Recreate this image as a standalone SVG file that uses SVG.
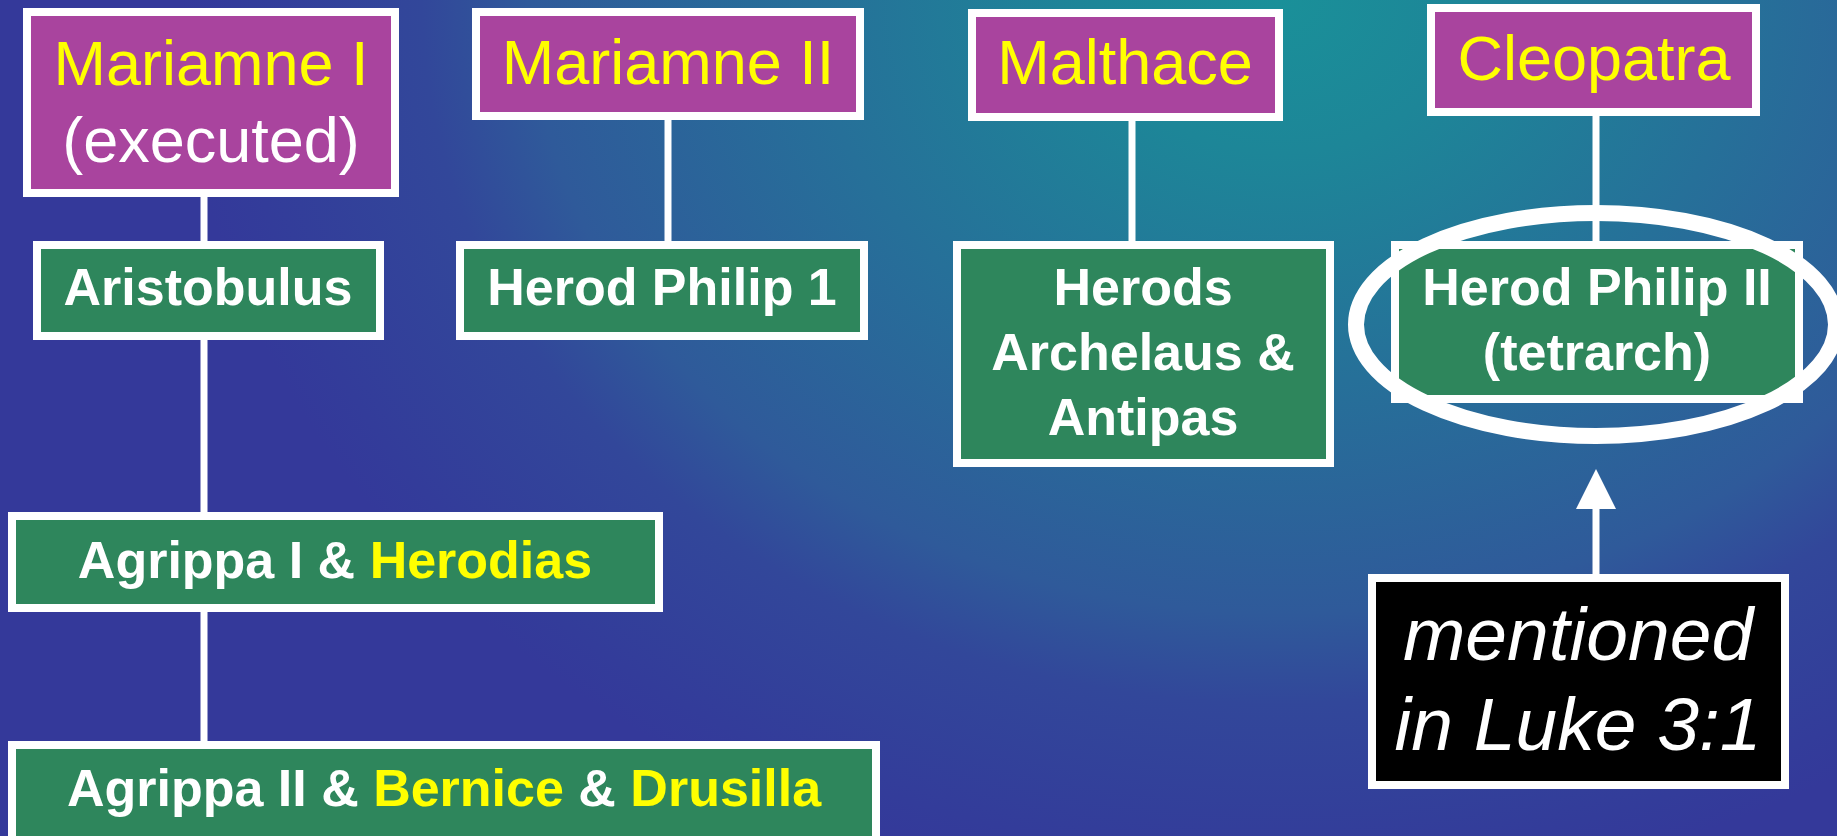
<svg xmlns="http://www.w3.org/2000/svg" width="1837" height="836" viewBox="0 0 1837 836">
  <defs>
    <radialGradient id="bg" gradientUnits="userSpaceOnUse" cx="1280" cy="0" r="1100" gradientTransform="translate(1280 0) scale(1 0.82) translate(-1280 0)">
      <stop offset="0" stop-color="#1a9099"/>
      <stop offset="0.17" stop-color="#1d8698"/>
      <stop offset="0.68" stop-color="#2f5a9a"/>
      <stop offset="0.78" stop-color="#32479a"/>
      <stop offset="0.95" stop-color="#333c9a"/>
      <stop offset="1" stop-color="#34399a"/>
    </radialGradient>
    <marker id="arrow" markerUnits="userSpaceOnUse" markerWidth="40" markerHeight="40" refX="0" refY="20" orient="auto" viewBox="0 0 40 40">
      <polygon points="0,0 40,20 0,40" fill="#ffffff"/>
    </marker>
  </defs>
  <style>
    .mother { fill: #a9449e; stroke: #ffffff; stroke-width: 8; }
    .child { fill: #2e865c; stroke: #ffffff; stroke-width: 8; }
    .note { fill: #000000; stroke: #ffffff; stroke-width: 8; }
    .link { stroke: #ffffff; stroke-width: 7; fill: none; }
    .mt { font-family: "Liberation Sans", Arial, sans-serif; font-size: 63px; fill: #ffff00; text-anchor: middle; }
    .mw { font-family: "Liberation Sans", Arial, sans-serif; font-size: 63px; fill: #ffffff; text-anchor: middle; }
    .ct { font-family: "Liberation Sans", Arial, sans-serif; font-size: 52px; font-weight: bold; fill: #ffffff; text-anchor: middle; }
    .y { fill: #ffff00; }
    .nt { font-family: "Liberation Sans", Arial, sans-serif; font-size: 75px; font-style: italic; fill: #ffffff; text-anchor: middle; }
  </style>
  <rect x="0" y="0" width="1837" height="836" fill="url(#bg)"/>

  <g id="connectors">
    <line class="link" x1="204" y1="197" x2="204" y2="241"/>
    <line class="link" x1="668" y1="120" x2="668" y2="241"/>
    <line class="link" x1="1132" y1="121" x2="1132" y2="241"/>
    <line class="link" x1="1596" y1="116" x2="1596" y2="241"/>
    <line class="link" x1="204" y1="340" x2="204" y2="512"/>
    <line class="link" x1="204" y1="612" x2="204" y2="741"/>
    <line class="link" x1="1596" y1="574" x2="1596" y2="509" marker-end="url(#arrow)"/>
  </g>

  <g id="mariamne1">
    <rect class="mother" x="27" y="12" width="368" height="181"/>
    <text class="mt" x="211" y="85">Mariamne I</text>
    <text class="mw" x="211" y="162">(executed)</text>
  </g>
  <g id="mariamne2">
    <rect class="mother" x="476" y="12" width="384" height="104"/>
    <text class="mt" x="668" y="84">Mariamne II</text>
  </g>
  <g id="malthace">
    <rect class="mother" x="972" y="13" width="307" height="104"/>
    <text class="mt" x="1125" y="84">Malthace</text>
  </g>
  <g id="cleopatra">
    <rect class="mother" x="1431" y="8" width="325" height="104"/>
    <text class="mt" x="1594" y="80">Cleopatra</text>
  </g>

  <g id="aristobulus">
    <rect class="child" x="37" y="245" width="343" height="91"/>
    <text class="ct" x="208" y="305">Aristobulus</text>
  </g>
  <g id="herodphilip1">
    <rect class="child" x="460" y="245" width="404" height="91"/>
    <text class="ct" x="662" y="305">Herod Philip 1</text>
  </g>
  <g id="archelaus-antipas">
    <rect class="child" x="957" y="245" width="373" height="218"/>
    <text class="ct" x="1143" y="305">Herods</text>
    <text class="ct" x="1143" y="370">Archelaus &amp;</text>
    <text class="ct" x="1143" y="435">Antipas</text>
  </g>
  <g id="herodphilip2">
    <rect class="child" x="1395" y="245" width="404" height="154"/>
    <text class="ct" x="1597" y="305">Herod Philip II</text>
    <text class="ct" x="1597" y="370">(tetrarch)</text>
    <ellipse cx="1596" cy="324.5" rx="240" ry="111.5" fill="none" stroke="#ffffff" stroke-width="16"/>
  </g>

  <g id="agrippa1">
    <rect class="child" x="12" y="516" width="647" height="92"/>
    <text class="ct" x="335" y="578">Agrippa I &amp; <tspan class="y">Herodias</tspan></text>
  </g>
  <g id="agrippa2">
    <rect class="child" x="12" y="745" width="864" height="110"/>
    <text class="ct" x="444" y="806">Agrippa II &amp; <tspan class="y">Bernice</tspan> &amp; <tspan class="y">Drusilla</tspan></text>
  </g>

  <g id="note">
    <rect class="note" x="1372" y="578" width="413" height="207"/>
    <text class="nt" x="1578" y="660">mentioned</text>
    <text class="nt" x="1578" y="750">in Luke 3:1</text>
  </g>
</svg>
